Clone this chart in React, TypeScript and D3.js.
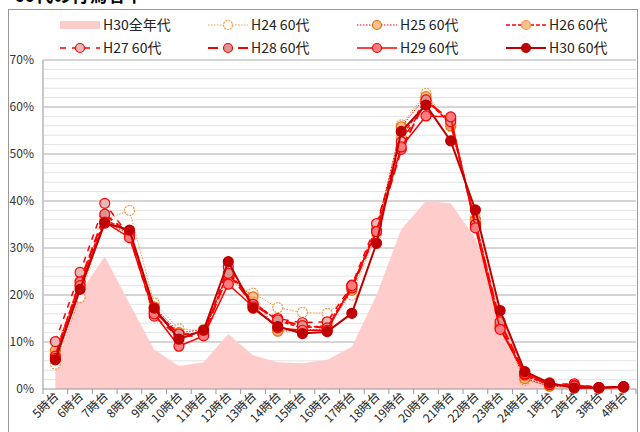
import React from "react";
import * as d3 from "d3";

const categories = ["5時台","6時台","7時台","8時台","9時台","10時台","11時台","12時台","13時台","14時台","15時台","16時台","17時台","18時台","19時台","20時台","21時台","22時台","23時台","24時台","1時台","2時台","3時台","4時台"];

const allAges = [4.0, 20.5, 28.2, 18.2, 8.4, 4.9, 5.7, 11.7, 7.2, 5.7, 5.5, 6.2, 9.0, 20.0, 34.0, 40.0, 39.5, 32.0, 17.0, 3.0, 1.2, 0.6, 0.3, 0.4];

const h24 = [5.3, 19.5, 36.0, 38.0, 18.3, 12.8, 12.4, 23.0, 20.4, 17.3, 16.3, 16.1, 20.0, 33.0, 56.2, 62.9, 55.8, 36.5, 14.0, 1.9, 0.7, 0.5, 0.2, 0.4];
const h25 = [8.2, 22.0, 35.5, 33.0, 17.5, 12.0, 12.6, 24.0, 19.6, 12.3, 12.5, 12.8, 21.0, 34.0, 55.8, 62.2, 56.0, 36.0, 13.5, 2.2, 0.6, 0.4, 0.2, 0.4];
const h26 = [7.4, 23.0, 36.0, 33.5, 17.0, 11.5, 12.0, 25.0, 18.5, 14.5, 13.0, 13.5, 21.5, 34.5, 53.5, 61.5, 56.5, 35.5, 13.5, 2.8, 0.9, 0.6, 0.3, 0.4];
const h27 = [10.1, 24.8, 39.5, 32.5, 15.5, 11.0, 11.5, 26.0, 18.0, 15.0, 14.1, 14.3, 22.1, 35.2, 52.6, 61.0, 57.5, 35.0, 13.0, 3.0, 1.0, 1.1, 0.3, 0.5];
const h28 = [7.0, 22.8, 37.2, 33.0, 16.5, 11.7, 11.5, 24.6, 18.0, 14.7, 13.5, 13.0, 21.5, 33.5, 51.0, 61.5, 56.9, 35.0, 14.3, 3.2, 0.9, 0.8, 0.3, 0.4];
const h29 = [6.5, 22.0, 35.5, 32.2, 16.0, 9.1, 11.3, 22.3, 17.5, 13.0, 12.5, 12.5, 22.0, 33.5, 51.5, 58.1, 57.9, 34.3, 12.7, 3.3, 1.0, 0.6, 0.2, 0.4];
const h30 = [6.2, 21.2, 35.3, 33.8, 17.2, 10.6, 12.5, 27.1, 17.2, 13.3, 11.8, 12.2, 16.1, 31.0, 54.8, 60.4, 52.8, 38.1, 16.7, 3.7, 1.3, 0.2, 0.3, 0.5];

const yTicks = [0, 10, 20, 30, 40, 50, 60, 70];

const seriesNames = ["H24 60代", "H25 60代", "H26 60代", "H27 60代", "H28 60代", "H29 60代", "H30 60代"];
const seriesValues = [h24, h25, h26, h27, h28, h29, h30];
const areaName = "H30全年代";

const styles = [
  { line: "#F79646", width: 1, dash: "1.5,1.5", fill: "#FFFFFF", mstroke: "#F79646", mdash: "2,1" },
  { line: "#FF0000", width: 1, dash: "1.5,1.5", fill: "#FAC090", mstroke: "#E46C0A", mdash: null },
  { line: "#FF0000", width: 1.5, dash: "4,2", fill: "#FAC090", mstroke: "#F79646", mdash: null },
  { line: "#FF0000", width: 1.5, dash: "6,6", fill: "#E6B9B8", mstroke: "#FF0000", mdash: null },
  { line: "#FF0000", width: 2, dash: "10,5", fill: "#D99594", mstroke: "#FF0000", mdash: null },
  { line: "#FF0000", width: 1.5, dash: null, fill: "#FF7C80", mstroke: "#FF0000", mdash: null },
  { line: "#C00000", width: 2, dash: null, fill: "#C00000", mstroke: "#C00000", mdash: null },
];

const AREA_COLOR = "#FFCCCC";
const FONT = "'Noto Sans CJK JP', 'Liberation Sans', sans-serif";

export default function App() {
  const W = 640, H = 432;
  const left = 43, right = 636, top = 60, bottom = 389;
  const x = d3.scaleBand<string>().domain(categories).range([left, right]).padding(0);
  const y = d3.scaleLinear().domain([0, 70]).range([bottom, top]);
  const cx = (i: number) => (x(categories[i]) as number) + x.bandwidth() / 2;

  const areaGen = d3.area<number>().x((_, i) => cx(i)).y0(y(0)).y1((d) => y(d));
  const lineGen = d3.line<number>().x((_, i) => cx(i)).y((d) => y(d));

  const minor = d3.range(0, 71, 2).filter((v) => v % 10 !== 0);

  const legendCols = [60, 208, 357, 506];
  const legendRows = [25, 48];
  const legendItems: { name: string; idx: number }[] = [
    { name: areaName, idx: -1 },
    { name: seriesNames[0], idx: 0 },
    { name: seriesNames[1], idx: 1 },
    { name: seriesNames[2], idx: 2 },
    { name: seriesNames[3], idx: 3 },
    { name: seriesNames[4], idx: 4 },
    { name: seriesNames[5], idx: 5 },
    { name: seriesNames[6], idx: 6 },
  ];

  return (
    <svg width={W} height={H} style={{ position: "absolute", left: 0, top: 0, background: "#fff" }} fontFamily={FONT}>
      <rect x={0} y={0} width={W} height={H} fill="#fff" />
      <text x={14} y={2} fontSize={18} fontWeight="bold" fill="#000">60代の行為者率</text>
      <rect x={8.5} y={9.5} width={629} height={440} fill="none" stroke="#999" strokeWidth={1} />

      {/* grid */}
      {minor.map((v) => (
        <line key={"m" + v} x1={left} x2={right} y1={y(v)} y2={y(v)} stroke="#E3E3E3" strokeWidth={1} />
      ))}
      {yTicks.filter((v) => v > 0).map((v) => (
        <line key={"g" + v} x1={left} x2={right} y1={y(v)} y2={y(v)} stroke="#ABABAB" strokeWidth={1} />
      ))}

      {/* area */}
      <path d={areaGen(allAges) as string} fill={AREA_COLOR} stroke="none" />

      {/* axes */}
      <line x1={left} x2={left} y1={top} y2={bottom} stroke="#C8C8C8" strokeWidth={2} />
      <line x1={left} x2={right} y1={bottom} y2={bottom} stroke="#999" strokeWidth={1} />
      {categories.map((c, i) => (
        <line key={"t" + i} x1={(x(c) as number)} x2={(x(c) as number)} y1={bottom} y2={bottom + 5} stroke="#999" />
      ))}
      <line x1={right} x2={right} y1={bottom} y2={bottom + 5} stroke="#999" />
      {yTicks.map((v) => (
        <text key={"yl" + v} x={34} y={y(v) + 4} fontSize={12} textAnchor="end" fill="#333">{v}%</text>
      ))}
      {categories.map((c, i) => (
        <text key={"xl" + i} transform={`translate(${cx(i) + 4},${bottom + 8}) rotate(-45)`} fontSize={12} textAnchor="end" fill="#222">{c}</text>
      ))}

      {/* series */}
      {seriesValues.map((vals, s) => {
        const st = styles[s];
        return (
          <g key={"s" + s}>
            <path d={lineGen(vals) as string} fill="none" stroke={st.line} strokeWidth={st.width} strokeDasharray={st.dash || undefined} />
            {vals.map((v, i) => (
              <circle key={i} cx={cx(i)} cy={y(v)} r={5} fill={st.fill} stroke={st.mstroke} strokeWidth={1.2} strokeDasharray={st.mdash || undefined} />
            ))}
          </g>
        );
      })}

      {/* legend */}
      {legendItems.map((it, k) => {
        const lx = legendCols[k % 4];
        const ly = legendRows[Math.floor(k / 4)];
        if (it.idx < 0) {
          return (
            <g key={"lg" + k}>
              <rect x={lx} y={ly - 4} width={40} height={8} fill={AREA_COLOR} />
              <text x={lx + 43} y={ly + 5} fontSize={14} fill="#222">{it.name}</text>
            </g>
          );
        }
        const st = styles[it.idx];
        return (
          <g key={"lg" + k}>
            <line x1={lx} x2={lx + 40} y1={ly} y2={ly} stroke={st.line} strokeWidth={st.width} strokeDasharray={st.dash || undefined} />
            <circle cx={lx + 20} cy={ly} r={4.5} fill={st.fill} stroke={st.mstroke} strokeWidth={1.2} strokeDasharray={st.mdash || undefined} />
            <text x={lx + 43} y={ly + 5} fontSize={14} fill="#222">{it.name}</text>
          </g>
        );
      })}
    </svg>
  );
}
